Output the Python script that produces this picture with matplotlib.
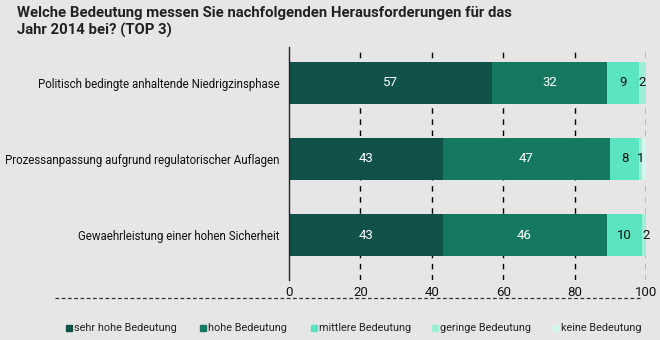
import numpy as np
import matplotlib.pyplot as plt
from matplotlib.patches import Rectangle
from matplotlib.lines import Line2D

plt.rcParams['font.family'] = ['Roboto', 'DejaVu Sans']

categories = ['Politisch bedingte anhaltende Niedrigzinsphase',
              'Prozessanpassung aufgrund regulatorischer Auflagen',
              'Gewaehrleistung einer hohen Sicherheit']
series = ['sehr hohe Bedeutung', 'hohe Bedeutung', 'mittlere Bedeutung',
          'geringe Bedeutung', 'keine Bedeutung']
sehr_hoch = [57, 43, 43]
hoch = [32, 47, 46]
mittel = [9, 8, 10]
gering = [2, 1, 2]
keine = [0, 1, 0]
values = [sehr_hoch, hoch, mittel, gering, keine]
colors = ['#10524a', '#14795f', '#5ae4bf', '#9cefd6', '#d2f7ec']
text_colors = ['white', 'white', '#111111', '#111111', '#111111']
bg = '#e6e6e6'

fig = plt.figure(figsize=(6.6, 3.4), dpi=100, facecolor=bg)
ax = fig.add_axes([289 / 660, 1 - 280 / 340, 357 / 660, 233 / 340])
ax.set_facecolor(bg)

y = np.arange(len(categories))
left = np.zeros(len(categories))
for vals, c, tc in zip(values, colors, text_colors):
    vals = np.array(vals, dtype=float)
    ax.barh(y, vals, left=left, height=0.55, color=c, zorder=2)
    for yi, l, v in zip(y, left, vals):
        if v > 0 and c != colors[4]:
            ax.text(l + v / 2, yi, f'{int(v)}', ha='center', va='center',
                    color=tc, fontsize=9.5, zorder=3)
    left += vals

ax.set_xlim(0, 100)
ax.set_ylim(2.59, -0.47)
ax.set_xticks([0, 20, 40, 60, 80, 100])
ax.set_yticks(y)
ax.set_yticklabels(categories, fontsize=8.3, color='#111111')
ax.tick_params(axis='y', length=0, pad=7)
ax.tick_params(axis='x', length=0, pad=4, labelsize=9.5, colors='#111111')
for x in [20, 40, 60, 80, 100]:
    ax.axvline(x, color='black', linestyle=(0, (4, 4)), linewidth=1, zorder=1)
for s in ['top', 'right', 'bottom']:
    ax.spines[s].set_visible(False)
ax.spines['left'].set_color('#222222')
ax.spines['left'].set_linewidth(1)

fig.text(17 / 660, 1 - 6 / 340,
         'Welche Bedeutung messen Sie nachfolgenden Herausforderungen für das\nJahr 2014 bei? (TOP 3)',
         fontsize=10.7, fontweight='bold', color='#222222', va='top',
         linespacing=1.25)

fig.add_artist(Line2D([55 / 660, 642 / 660], [1 - 298 / 340] * 2,
                      color='#333333', linewidth=0.9, linestyle=(0, (3, 2))))

leg_x = [66, 200, 311, 432, 553]
for lx, lab, c in zip(leg_x, series, colors):
    fig.add_artist(Rectangle((lx / 660, 1 - 331 / 340), 6 / 660, 6 / 340,
                             color=c, transform=fig.transFigure))
    fig.text((lx + 8) / 660, 1 - 328 / 340, lab, fontsize=7.8,
             va='center', color='#222222')

fig.savefig('out.png', dpi=100, facecolor=bg)
